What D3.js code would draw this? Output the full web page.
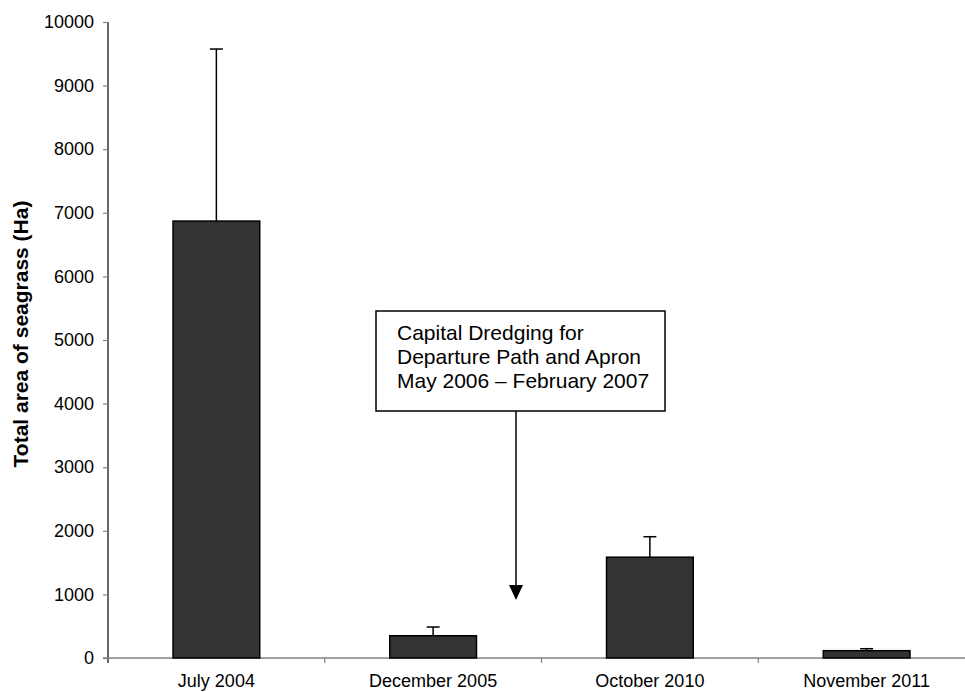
<!DOCTYPE html>
<html>
<head>
<meta charset="utf-8">
<script src="https://cdn.jsdelivr.net/npm/d3@7"></script>
<style>
  body { margin: 0; background: #fff; }
  text { font-family: "Liberation Sans", Arial, sans-serif; fill: #000; }
</style>
</head>
<body>
<div id="chart"></div>
<script>
// data
const categories = ['July 2004', 'December 2005', 'October 2010', 'November 2011'];
const areaValues = [6870, 350, 1585, 115];
const errorTops = [9575, 487, 1907, 146];
const yTicks = [0, 1000, 2000, 3000, 4000, 5000, 6000, 7000, 8000, 9000, 10000];
const noteLines = ['Capital Dredging for', 'Departure Path and Apron', 'May 2006 \u2013 February 2007'];

const W = 965, H = 692;
const MARGIN = { top: 22, left: 108, bottom: 34 };
const plotRight = 975; // the source chart is cropped on the right

let svg = d3.select('#chart')
  .append('svg')
  .attr('width', W)
  .attr('height', H);

let x = d3.scaleBand()
  .domain(categories)
  .range([MARGIN.left, plotRight])
  .paddingInner(0.6)
  .paddingOuter(0.3);

let y = d3.scaleLinear()
  .domain([0, 10000])
  .range([H - MARGIN.bottom, MARGIN.top]);

let step = x.step();

// Y axis
let yAxis = svg.append('g')
  .attr('transform', 'translate(' + MARGIN.left + ',0)')
  .call(d3.axisLeft(y).tickValues(yTicks).tickSize(5).tickPadding(9).tickFormat(d3.format('d')));
yAxis.select('.domain').attr('stroke', '#000').attr('stroke-width', 1.2)
  .attr('d', 'M0,' + y(10000) + 'V' + (y(0) + 5));
yAxis.selectAll('.tick line').attr('stroke', '#808080').attr('stroke-width', 1.2);
yAxis.selectAll('.tick text').style('font-size', '18px').attr('font-family', null);

// X axis
let xAxis = svg.append('g')
  .attr('transform', 'translate(0,' + y(0) + ')');
xAxis.append('line')
  .attr('x1', MARGIN.left - 5).attr('x2', plotRight)
  .attr('stroke', '#808080').attr('stroke-width', 1.5);
xAxis.selectAll('line.sep')
  .data(categories.slice(1))
  .enter().append('line')
  .attr('class', 'sep')
  .attr('x1', (d) => x(d) - x.paddingInner() * step / 2)
  .attr('x2', (d) => x(d) - x.paddingInner() * step / 2)
  .attr('y1', 0).attr('y2', 5)
  .attr('stroke', '#808080').attr('stroke-width', 1.2);
xAxis.selectAll('text')
  .data(categories)
  .enter().append('text')
  .attr('x', (d) => x(d) + x.bandwidth() / 2)
  .attr('y', 29)
  .attr('text-anchor', 'middle')
  .style('font-size', '18px')
  .text((d) => d);

// error bars
let errs = svg.append('g');
categories.forEach(function (c, i) {
  let cx = x(c) + x.bandwidth() / 2;
  errs.append('line')
    .attr('x1', cx).attr('x2', cx)
    .attr('y1', y(areaValues[i])).attr('y2', y(errorTops[i]))
    .attr('stroke', '#000').attr('stroke-width', 1.5);
  errs.append('line')
    .attr('x1', cx - 6.5).attr('x2', cx + 6.5)
    .attr('y1', y(errorTops[i])).attr('y2', y(errorTops[i]))
    .attr('stroke', '#000').attr('stroke-width', 1.5);
});

// bars
svg.append('g')
  .selectAll('rect')
  .data(categories)
  .enter().append('rect')
  .attr('x', (d) => x(d))
  .attr('width', x.bandwidth())
  .attr('y', (d, i) => y(areaValues[i]))
  .attr('height', (d, i) => y(0) - y(areaValues[i]))
  .attr('fill', '#333333')
  .attr('stroke', '#000')
  .attr('stroke-width', 1.5);

// y axis title
svg.append('text')
  .attr('transform', 'translate(28,334) rotate(-90)')
  .attr('text-anchor', 'middle')
  .style('font-size', '21px')
  .style('font-weight', 'bold')
  .text('Total area of seagrass (Ha)');

// annotation box and arrow
let box = { x: 376, y: 311, w: 289, h: 100 };
let arrowX = 516;
let arrowTip = y(910);

let note = svg.append('g');
note.append('rect')
  .attr('x', box.x).attr('y', box.y)
  .attr('width', box.w).attr('height', box.h)
  .attr('fill', '#fff')
  .attr('stroke', '#000').attr('stroke-width', 1.5);
note.selectAll('text')
  .data(noteLines)
  .enter().append('text')
  .attr('x', box.x + 21)
  .attr('y', (d, i) => box.y + 29 + i * 24)
  .style('font-size', '21px')
  .text((d) => d);
note.append('line')
  .attr('x1', arrowX).attr('x2', arrowX)
  .attr('y1', box.y + box.h).attr('y2', arrowTip - 14)
  .attr('stroke', '#000').attr('stroke-width', 1.5);
note.append('path')
  .attr('d', 'M' + (arrowX - 7) + ',' + (arrowTip - 15) + 'L' + (arrowX + 7) + ',' + (arrowTip - 15) + 'L' + arrowX + ',' + arrowTip + 'Z')
  .attr('fill', '#000');
</script>
</body>
</html>
